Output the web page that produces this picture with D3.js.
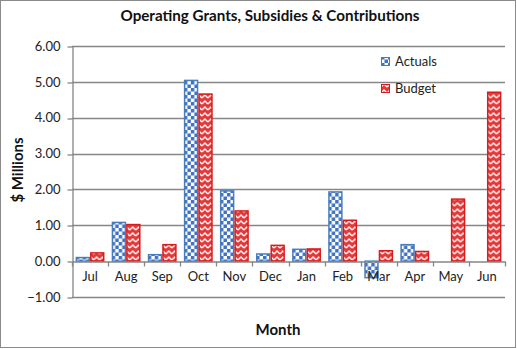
<!DOCTYPE html>
<html>
<head>
<meta charset="utf-8">
<script src="https://cdn.jsdelivr.net/npm/d3@7"></script>
<style>
  body { margin: 0; background: #fff; }
  svg { display: block; font-family: Lato, "Open Sans", sans-serif; }
</style>
</head>
<body>
<svg id="chart" width="517" height="349"></svg>
<script>
const months = ["Jul", "Aug", "Sep", "Oct", "Nov", "Dec", "Jan", "Feb", "Mar", "Apr", "May", "Jun"];
const actuals = [0.10, 1.08, 0.18, 5.04, 1.96, 0.20, 0.33, 1.93, -0.46, 0.46, 0, 0];
const budget = [0.23, 1.02, 0.46, 4.66, 1.40, 0.44, 0.34, 1.14, 0.29, 0.27, 1.73, 4.71];
const yTicks = [-1, 0, 1, 2, 3, 4, 5, 6];

const series = [
  {name: "Actuals", values: actuals, fill: "url(#checker)", stroke: "#4a7ebb"},
  {name: "Budget", values: budget, fill: "url(#zigzag)", stroke: "#d81c1c"}
];

const margin = {top: 46, right: 12, bottom: 52, left: 72};
const W = 517, H = 349;
const width = W - margin.left - margin.right;
const height = H - margin.top - margin.bottom;

const svg = d3.select("#chart");

// fill patterns
const defs = svg.append("defs");
const checker = defs.append("pattern")
  .attr("id", "checker").attr("patternUnits", "userSpaceOnUse")
  .attr("width", 7).attr("height", 7);
checker.append("rect").attr("width", 7).attr("height", 7).attr("fill", "#fff");
checker.append("rect").attr("width", 3.5).attr("height", 3.5).attr("fill", "#3f72c2");
checker.append("rect").attr("x", 3.5).attr("y", 3.5).attr("width", 3.5).attr("height", 3.5).attr("fill", "#3f72c2");

const zig = defs.append("pattern")
  .attr("id", "zigzag").attr("patternUnits", "userSpaceOnUse")
  .attr("width", 6).attr("height", 6);
zig.append("rect").attr("width", 6).attr("height", 6).attr("fill", "#e23a3a");
zig.append("path")
  .attr("d", "M0,4 L3,1 L6,4")
  .attr("fill", "none").attr("stroke", "#fff").attr("stroke-width", 1.4);

// outer frame
svg.append("rect")
  .attr("x", 0.5).attr("y", 0.5).attr("width", W - 2).attr("height", H - 2)
  .attr("fill", "#fff").attr("stroke", "#8a8a8a");

const g = svg.append("g").attr("transform", `translate(${margin.left},${margin.top})`);

const x0 = d3.scaleBand().domain(months).range([0, width]).paddingInner(0.2).paddingOuter(0.1);
const x1 = d3.scaleBand().domain(series.map(s => s.name)).range([0, x0.bandwidth()]);
const y = d3.scaleLinear().domain([-1, 6]).range([height, 0]);

// horizontal gridlines
g.append("g")
  .selectAll("line")
  .data(yTicks.filter(t => t !== -1 && t !== 0))
  .join("line")
  .attr("x1", 0).attr("x2", width)
  .attr("y1", d => Math.round(y(d)) + 0.5).attr("y2", d => Math.round(y(d)) + 0.5)
  .attr("stroke", "#868686").attr("stroke-width", 1.3);

// bottom line at -1
g.append("line")
  .attr("x1", 0).attr("x2", width)
  .attr("y1", Math.round(y(-1)) + 0.5).attr("y2", Math.round(y(-1)) + 0.5)
  .attr("stroke", "#868686").attr("stroke-width", 1.3);

// y axis
const yAxis = g.append("g")
  .attr("transform", "translate(0.5,0)")
  .call(d3.axisLeft(y).tickValues(yTicks).tickFormat(d3.format(".2f")).tickSize(5).tickSizeOuter(0));
yAxis.select(".domain").attr("stroke", "#868686").attr("stroke-width", 1.3);
yAxis.selectAll(".tick line").attr("stroke", "#868686").attr("stroke-width", 1.3)
  .attr("transform", d => `translate(0,${Math.round(y(d)) + 0.5 - y(d)})`);
yAxis.selectAll(".tick text")
  .attr("x", -12)
  .attr("font-size", 13).attr("fill", "#222").attr("font-family", "Lato, sans-serif");

// bars
const groups = g.append("g")
  .selectAll("g")
  .data(months)
  .join("g")
  .attr("transform", d => `translate(${x0(d)},0)`);

groups.selectAll("rect")
  .data((m, i) => series.map(s => ({s, v: s.values[i]})).filter(d => d.v !== 0))
  .join("rect")
  .attr("x", d => x1(d.s.name) + 0.75)
  .attr("width", x1.bandwidth() - 1.5)
  .attr("y", d => y(Math.max(0, d.v)))
  .attr("height", d => Math.abs(y(d.v) - y(0)))
  .attr("fill", d => d.s.fill)
  .attr("stroke", d => d.s.stroke)
  .attr("stroke-width", 1.5);

// category axis at zero
const xAxis = g.append("g")
  .attr("transform", `translate(0,${Math.round(y(0)) + 0.5})`)
  .call(d3.axisBottom(x0).tickSize(0));
xAxis.select(".domain").attr("stroke", "#868686").attr("stroke-width", 1.3);
xAxis.selectAll(".tick text")
  .attr("dy", "1.25em")
  .attr("font-size", 13).attr("fill", "#222").attr("font-family", "Lato, sans-serif");
const step = width / months.length;
xAxis.append("g")
  .selectAll("line")
  .data(d3.range(months.length + 1))
  .join("line")
  .attr("x1", i => Math.round(i * step) + 0.5).attr("x2", i => Math.round(i * step) + 0.5)
  .attr("y1", 0).attr("y2", 5)
  .attr("stroke", "#868686").attr("stroke-width", 1.3);

// title and axis titles
svg.append("text")
  .attr("x", 270).attr("y", 21)
  .attr("text-anchor", "middle")
  .attr("font-size", 15.2).attr("font-weight", "bold").attr("fill", "#111")
  .text("Operating Grants, Subsidies & Contributions");

svg.append("text")
  .attr("transform", "translate(23,170) rotate(-90)")
  .attr("text-anchor", "middle")
  .attr("font-size", 15).attr("font-weight", "bold").attr("fill", "#111")
  .text("$ Millions");

svg.append("text")
  .attr("x", 278).attr("y", 335)
  .attr("text-anchor", "middle")
  .attr("font-size", 15).attr("font-weight", "bold").attr("fill", "#111")
  .text("Month");

// legend
const legend = svg.append("g").attr("transform", "translate(381,56)");
const li = legend.selectAll("g")
  .data(series)
  .join("g")
  .attr("transform", (d, i) => `translate(0,${i * 27})`);
li.append("rect")
  .attr("x", 0.5).attr("y", 1.5).attr("width", 8).attr("height", 8)
  .attr("fill", d => d.fill).attr("stroke", d => d.stroke).attr("stroke-width", 1);
li.append("text")
  .attr("x", 14).attr("y", 10)
  .attr("font-size", 13).attr("fill", "#222")
  .text(d => d.name);
</script>
</body>
</html>
